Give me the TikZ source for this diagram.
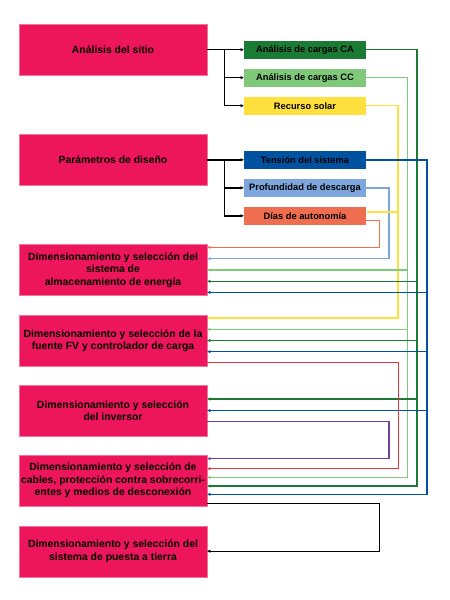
\documentclass[tikz,border=0pt]{standalone}
\usepackage{fontspec}
\setmainfont{Liberation Sans}
\usepackage{xcolor}
\usetikzlibrary{arrows.meta}

\definecolor{BoxPink}{RGB}{237,21,92}
\definecolor{CAGreen}{RGB}{27,122,52}
\definecolor{CCGreen}{RGB}{128,200,122}
\definecolor{SolarYellow}{RGB}{255,224,60}
\definecolor{VoltBlue}{RGB}{0,82,160}
\definecolor{DepthBlue}{RGB}{125,167,220}
\definecolor{DaysOrange}{RGB}{240,110,80}
\definecolor{CableRed}{RGB}{240,50,60}
\definecolor{InvPurple}{RGB}{112,64,160}

\begin{document}
\begin{tikzpicture}[x=1pt, y=-1pt, line/.style={-{Latex[length=3.5pt,width=3.5pt]}, line width=1.4pt}, mainbox/.style={rectangle, fill=BoxPink, draw=BoxPink!60!white, line width=0.4pt, minimum width=187.4pt, minimum height=51pt, inner sep=0, align=center, font=\bfseries\fontsize{10.4}{12.4}\selectfont}, subbox/.style={rectangle, minimum width=121.4pt, minimum height=18pt, inner sep=0, font=\bfseries\fontsize{9.3}{11}\selectfont}]

  \useasboundingbox (0,0) rectangle (450,600);

  \node[mainbox] (sitio)    at (113,49.5)  {Análisis del sitio};
  \node[mainbox] (param)    at (113,159.8) {Parámetros de diseño};
  \node[mainbox] (almac)    at (113,270)   {Dimensionamiento y selección del\\sistema de\\almacenamiento de energía};
  \node[mainbox] (fuente)   at (113,340.5) {Dimensionamiento y selección de la\\fuente FV y controlador de carga};
  \node[mainbox] (inversor) at (113,410.5) {Dimensionamiento y selección\\del inversor};
  \node[mainbox] (cables)   at (113,480.5) {Dimensionamiento y selección de\\cables, protección contra sobrecorri-\\entes y medios de desconexión};
  \node[mainbox] (tierra)   at (113,551.2) {Dimensionamiento y selección del\\sistema de puesta a tierra};

  \node[subbox,fill=CAGreen]     (ca)      at (305,49.7)  {Análisis de cargas CA};
  \node[subbox,fill=CCGreen]     (cc)      at (305,77.7)  {Análisis de cargas CC};
  \node[subbox,fill=SolarYellow] (solar)   at (305,105.7) {Recurso solar};
  \node[subbox,fill=VoltBlue]    (tension) at (305,159.8) {Tensión del sistema};
  \node[subbox,fill=DepthBlue]   (prof)    at (305,187.8) {Profundidad de descarga};
  \node[subbox,fill=DaysOrange]  (dias)    at (305,215.8) {Días de autonomía};

  \draw [line] (sitio.east) -- ++(17.3,0) |- (ca.west);
  \draw [line] (sitio.east) -- ++(17.3,0) |- (cc.west);
  \draw [line] (sitio.east) -- ++(17.3,0) |- (solar.west);
  \draw [line] (param.east) -- ++(17.3,0) |- (tension.west);
  \draw [line] (param.east) -- ++(17.3,0) |- (prof.west);
  \draw [line] (param.east) -- ++(17.3,0) |- (dias.west);

  \draw [line,DaysOrange]  ([yshift=-4.5pt]dias.east) -- ++(13.3,0) |- ([yshift=22.7pt]almac.east);
  \draw [line,DepthBlue]   (prof.east) -- ++(23,0) |- ([yshift=11.3pt]almac.east);

  \draw [line,SolarYellow] (solar.east) -- ++(32,0) |- ([yshift=4pt]dias.east);
  \draw [line,SolarYellow] (solar.east) -- ++(32,0) |- ([yshift=22.5pt]fuente.east);

  \draw [line,CCGreen]     (cc.east) -- ++(41.6,0) |- (almac.east);
  \draw [line,CCGreen]     (cc.east) -- ++(41.6,0) |- ([yshift=11.2pt]fuente.east);
  \draw [line,CCGreen]     (cc.east) -- ++(41.6,0) |- ([yshift=3.2pt]cables.east);

  \draw [line,CAGreen]     (ca.east) -- ++(51,0) |- ([yshift=-11.3pt]almac.east);
  \draw [line,CAGreen]     (ca.east) -- ++(51,0) |- (fuente.east);
  \draw [line,CAGreen]     (ca.east) -- ++(51,0) |- ([yshift=11.5pt]inversor.east);
  \draw [line,CAGreen]     (ca.east) -- ++(51,0) |- ([yshift=-5.5pt]cables.east);

  \draw [line,VoltBlue]    (tension.east) -- ++(61,0) |- ([yshift=-22.3pt]almac.east);
  \draw [line,VoltBlue]    (tension.east) -- ++(61,0) |- ([yshift=-11.2pt]fuente.east);
  \draw [line,VoltBlue]    (tension.east) -- ++(61,0) |- (inversor.east);
  \draw [line,VoltBlue]    (tension.east) -- ++(61,0) |- ([yshift=-13.8pt]cables.east);

  \draw [line,CableRed]    ([yshift=-22.2pt]fuente.east) -- ++(191.6,0) |- ([yshift=11.8pt]cables.east);
  \draw [line,InvPurple]   ([yshift=-10.8pt]inversor.east) -- ++(182,0) |- ([yshift=21.8pt]cables.east);
  \draw [line]             ([yshift=-22.8pt]cables.east) -- ++(172.6,0) |- (tierra.east);
\end{tikzpicture}
\end{document}
